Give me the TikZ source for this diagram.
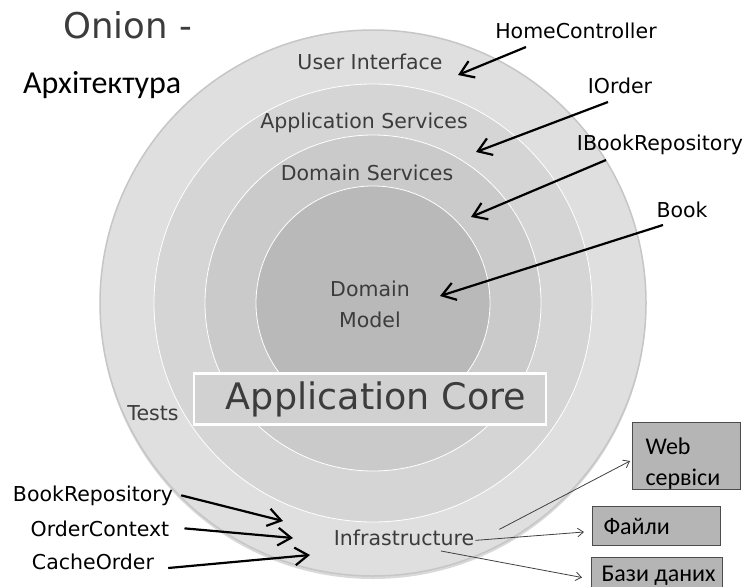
\documentclass[tikz,border=0pt]{standalone}
\usepackage{fontspec}
\setmainfont{DejaVu Sans}
\newfontfamily\calib{Carlito}
\usetikzlibrary{arrows.meta,positioning}

\definecolor{ringout}{HTML}{DFDFDF}
\definecolor{ringapp}{HTML}{D5D5D5}
\definecolor{ringdom}{HTML}{CACACA}
\definecolor{ringcore}{HTML}{B9B9B9}
\definecolor{labelgray}{HTML}{3C3C3C}
\definecolor{storegray}{HTML}{B5B5B5}

\begin{document}
\begin{tikzpicture}[
    x=1pt, y=-1pt,
    font=\fontsize{20.5}{31}\selectfont,
    layer/.style={text=labelgray, inner sep=1pt, anchor=base},
    ext/.style={text=black, inner sep=1pt, anchor=base},
    store/.style={draw=black!70, line width=1pt, fill=storegray, anchor=north west, align=left, inner ysep=0pt, font=\calib\fontsize{24}{31}\selectfont},
    ptr/.style={-{Straight Barb[length=4.6mm, width=6.2mm]}, line width=2.2pt},
    slim/.style={-{Straight Barb[length=2mm, width=3mm]}, line width=0.8pt, draw=black!75}
  ]
  \useasboundingbox (0,0) rectangle (746,586);

  % Onion rings
  \fill[gray!30] (373,306) circle[radius=273];
  \filldraw[fill=ringout, draw=gray!45, line width=1.5pt] (373,303) circle[radius=273];
  \filldraw[fill=ringapp, draw=white, line width=0.8pt] (373,303) circle[radius=219];
  \filldraw[fill=ringdom, draw=white, line width=0.8pt] (373,303) circle[radius=168];
  \filldraw[fill=ringcore, draw=white, line width=0.8pt] (373,303) circle[radius=117];

  % Title
  \node[anchor=base west, inner sep=0pt, text=labelgray, font=\fontsize{35.5}{40}\selectfont] (title) at (63,38) {Onion -};
  \node[anchor=base west, inner sep=0pt, font=\calib\fontsize{32}{36}\selectfont] (subtitle) at (23,93) {Архітектура};

  % Layer labels
  \node[layer] (ui) at (370,69) {User Interface};
  \node[layer] (as) at (364,128) {Application Services};
  \node[layer] (ds) at (367,180) {Domain Services};
  \node[layer, align=center] (dm) at (370,327) {Domain\\Model};
  \node[layer] (tests) at (153,420) {Tests};
  \node[layer] (inf) at (404,545) {Infrastructure};
  \node[draw=white, line width=2.5pt, fill=ringapp!98!black, minimum width=352pt, minimum height=51pt, text=labelgray, font=\fontsize{36.5}{40}\selectfont] (core) at (370,399) {\hspace*{12pt}Application Core};

  % Classes
  \node[ext] (hc) at (576,38) {HomeController};
  \node[ext] (io) at (620,93) {IOrder};
  \node[ext] (ibr) at (660,150) {IBookRepository};
  \node[ext] (bk) at (682,217) {Book};
  \node[ext] (brp) at (93,501) {BookRepository};
  \node[ext] (oc) at (100,536) {OrderContext};
  \node[ext] (co) at (93,569) {CacheOrder};

  % External resources
  \node[store, text width=82pt, inner xsep=13pt, minimum height=67pt] (web) at (632,422) {\rule{0pt}{31pt}Web\\сервіси};
  \node[store, inner xsep=11pt, minimum height=39pt] (fl) at (592,506) {\makebox[106pt][l]{Файли}};
  \node[store, inner xsep=10pt, minimum height=36pt] (bd) at (591,557) {\makebox[111pt][l]{Бази даних}};

  % Arrow tips inside the rings
  \coordinate (ui-tip) at (458,75);
  \coordinate (as-tip) at (476,152);
  \coordinate (ds-tip) at (471,217);
  \coordinate (dm-tip) at (440,296);
  \coordinate (inf-a) at (283,521);
  \coordinate (inf-b) at (293,538);
  \coordinate (inf-c) at (310,555);

  \draw[ptr] ([shift={(-50,9)}]hc.base) -- (ui-tip);
  \draw[ptr] ([shift={(-12,9)}]io.base) -- (as-tip);
  \draw[ptr] ([shift={(-54,10)}]ibr.base) -- (ds-tip);
  \draw[ptr] ([shift={(-19,8)}]bk.base) -- (dm-tip);
  \draw[ptr] ([xshift=7pt]brp.east) -- (inf-a);
  \draw[ptr] ([xshift=14pt]oc.east) -- (inf-b);
  \draw[ptr] ([shift={(13,-1)}]co.base east) -- (inf-c);

  % Infrastructure to outside
  \draw[slim] ([shift={(24,-8)}]inf.east) -- ([shift={(-2,5)}]web.west);
  \draw[slim] ([shift={(0,3)}]inf.east) -- ([shift={(-8,6)}]fl.west);
  \draw[slim] ([shift={(37,6)}]inf.base) -- ([shift={(-9,2)}]bd.west);

\end{tikzpicture}
\end{document}
